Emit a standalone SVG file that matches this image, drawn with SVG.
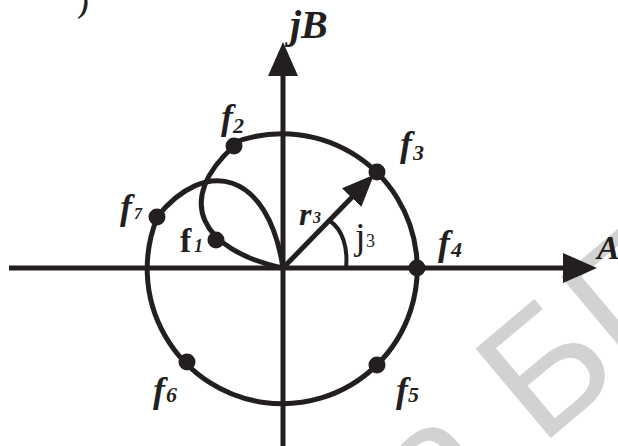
<svg xmlns="http://www.w3.org/2000/svg" width="618" height="446" viewBox="0 0 618 446">
  <style>
    .ln { fill: none; stroke: #231f20; stroke-width: 5; }
    .thin { fill: none; stroke: #231f20; stroke-width: 4; }
    .dot { fill: #231f20; }
    .lbl { font-family: "Liberation Serif", "Times New Roman", serif; font-style: italic; font-weight: bold; fill: #231f20; }
    .up { font-family: "Liberation Serif", "Times New Roman", serif; font-style: normal; fill: #231f20; }
    .f { font-size: 36px; }
    .sub { font-size: 22px; }
    .wm { font-family: "Liberation Sans", Arial, sans-serif; font-size: 170px; fill: #d2d2d2; }
  </style>
  <defs>
    <marker id="arr" viewBox="0 0 34 30" refX="14" refY="15" markerWidth="34" markerHeight="30" markerUnits="userSpaceOnUse" orient="auto">
      <path d="M0,0 L34,15 L0,30 Z" fill="#231f20"/>
    </marker>
    <marker id="arrS" viewBox="0 0 32 27" refX="12" refY="13.5" markerWidth="32" markerHeight="27" markerUnits="userSpaceOnUse" orient="auto">
      <path d="M0,0 L32,13.5 L0,27 Z" fill="#231f20"/>
    </marker>
  </defs>

  <g id="watermark" transform="translate(540,447) rotate(-40)">
    <text class="wm" x="-47" y="0" text-anchor="end">Библиотека</text>
    <text class="wm" x="0" y="0">БГУИР</text>
  </g>

  <text class="lbl" x="80" y="13" font-size="28">)</text>

  <g id="connectors">
    <line id="axis-A" class="ln" x1="9" y1="268" x2="577" y2="268" marker-end="url(#arr)"/>
    <line id="axis-jB" class="ln" x1="283" y1="446" x2="283" y2="62" marker-end="url(#arr)"/>
    <path id="locus-circle" class="ln" d="M233,143 A135,135 0 1 1 157.5,217"/>
    <path id="loop-f7" class="ln" d="M157,217 C205,157 268,170 283,268"/>
    <path id="loop-f2" class="ln" d="M234,146 C174,200 200,250 283,268"/>
    <line id="vector-r3" class="ln" x1="283" y1="268" x2="360" y2="189" marker-end="url(#arrS)"/>
    <path id="angle-j3" class="thin" d="M330,221 C343,230 348,248 346,268"/>
  </g>

  <g id="axis-labels">
    <text class="lbl" x="290" y="38" font-size="40">jB</text>
    <text class="lbl" x="597" y="259" font-size="34">A</text>
  </g>

  <g id="f1"><circle class="dot" cx="216" cy="240" r="8.5"/><text class="up" x="180" y="252" font-size="34" font-weight="bold">f</text><text class="lbl" x="194" y="252" font-size="18">1</text></g>
  <g id="f2"><circle class="dot" cx="234" cy="146" r="8.5"/><text class="lbl f" x="221" y="129">f</text><text class="lbl sub" x="233" y="133">2</text></g>
  <g id="f3"><circle class="dot" cx="377" cy="172" r="8.5"/><text class="lbl f" x="400" y="156">f</text><text class="lbl sub" x="413" y="160">3</text></g>
  <g id="f4"><circle class="dot" cx="417" cy="268" r="8.5"/><text class="lbl f" x="438" y="255">f</text><text class="lbl sub" x="451" y="257">4</text></g>
  <g id="f5"><circle class="dot" cx="377" cy="365" r="8.5"/><text class="lbl f" x="396" y="402">f</text><text class="lbl sub" x="408" y="402">5</text></g>
  <g id="f6"><circle class="dot" cx="187" cy="362" r="8.5"/><text class="lbl f" x="153" y="402">f</text><text class="lbl sub" x="166" y="402">6</text></g>
  <g id="f7"><circle class="dot" cx="157" cy="217" r="8.5"/><text class="lbl f" x="120" y="219">f</text><text class="lbl" x="134" y="219" font-size="16">7</text></g>

  <g id="r3-label"><text class="lbl" x="299" y="225" font-size="32">r</text><text class="lbl" x="313" y="223" font-size="16">3</text></g>
  <g id="j3-label"><text class="up" x="355" y="249" font-size="38">j</text><text class="up" x="366" y="247" font-size="18">3</text></g>
</svg>
